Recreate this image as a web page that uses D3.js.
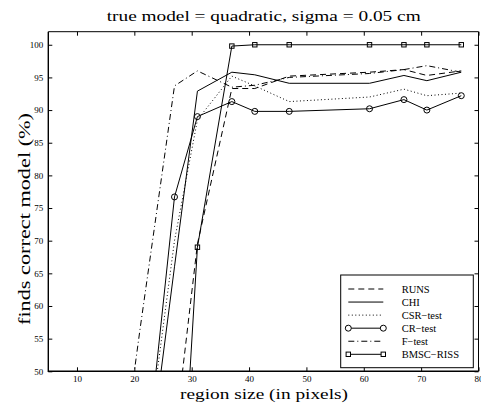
<!DOCTYPE html>
<html>
<head>
<meta charset="utf-8">
<script src="https://cdn.jsdelivr.net/npm/d3@7/dist/d3.min.js"></script>
<style>
  html, body { margin: 0; padding: 0; background: #fff; }
  svg { display: block; }
  text { font-family: "Liberation Serif", "Times New Roman", serif; fill: #000; }
</style>
</head>
<body>
<svg id="chart" width="481" height="411"></svg>
<script>
// Region sizes (pixels) at which each method was evaluated
const regionSizes = [15, 21, 27, 31, 37, 41, 47, 61, 67, 71, 77];

// Percentage of trials in which each method finds the correct model
const runs  = [5, 10, 39.5, 69.5, 93.3, 93.3, 95.2, 95.8, 96.2, 95.3, 96.0];
const chi   = [5, 25, 66.0, 92.9, 95.8, 95.4, 94.1, 94.1, 95.3, 94.5, 95.8];
const csr   = [5, 30, 70.0, 88.5, 95.2, 93.7, 91.3, 92.0, 93.2, 92.2, 92.6];
const cr    = [8, 27, 76.7, 89.0, 91.3, 89.8, 89.8, 90.2, 91.6, 90.0, 92.2];
const ftest = [17.5, 56.5, 93.7, 96.0, 93.5, 93.8, 95.0, 95.6, 96.2, 96.8, 95.8];
const bmsc  = [2, 5, 10.6, 69.0, 99.8, 100, 100, 100, 100, 100, 100];

const seriesNames = ["RUNS", "CHI", "CSR\u2212test", "CR\u2212test", "F\u2212test", "BMSC\u2212RISS"];
const seriesValues = [runs, chi, csr, cr, ftest, bmsc];

const xTicks = [10, 20, 30, 40, 50, 60, 70, 80];
const yTicks = [50, 55, 60, 65, 70, 75, 80, 85, 90, 95, 100];

// line styles per method
const styles = [
  { dash: "6,4",     marker: null },
  { dash: null,      marker: null },
  { dash: "1,2.5",   marker: null },
  { dash: null,      marker: "circle" },
  { dash: "6,3,1,3", marker: null },
  { dash: null,      marker: "square" }
];

const svg = d3.select("#chart");
const pL = 48.3, pR = 478.5, pT = 31.7, pB = 371.3;

const x = d3.scaleLinear().domain([5, 80]).range([pL, pR]);
const y = d3.scaleLinear().domain([50, 102]).range([pB, pT]);

svg.append("defs").append("clipPath").attr("id", "plotClip")
  .append("rect").attr("x", pL).attr("y", pT)
  .attr("width", pR - pL).attr("height", pB - pT);

// title (wide-set serif lettering)
svg.append("text").attr("x", 106.7).attr("y", 20.5)
  .style("font-size", "15.5px")
  .attr("textLength", 314).attr("lengthAdjust", "spacingAndGlyphs")
  .text("true model = quadratic, sigma = 0.05 cm");

// axis labels
svg.append("text").attr("x", 180).attr("y", 398.5)
  .style("font-size", "15.5px")
  .attr("textLength", 168).attr("lengthAdjust", "spacingAndGlyphs")
  .text("region size (in pixels)");
svg.append("text").attr("transform", "translate(29.5,325) rotate(-90)")
  .style("font-size", "17.5px")
  .attr("textLength", 212).attr("lengthAdjust", "spacingAndGlyphs")
  .text("finds correct model (%)");

// axes with inward ticks
const tickLen = 4;
const axBottom = d3.axisBottom(x).tickValues(xTicks).tickSizeInner(-tickLen).tickSizeOuter(0).tickPadding(4);
const axTop = d3.axisTop(x).tickValues(xTicks).tickSizeInner(-tickLen).tickSizeOuter(0).tickFormat("");
const axLeft = d3.axisLeft(y).tickValues(yTicks).tickSizeInner(-tickLen).tickSizeOuter(0).tickPadding(5);
const axRight = d3.axisRight(y).tickValues(yTicks).tickSizeInner(-tickLen).tickSizeOuter(0).tickFormat("");

function styleAxis(g) {
  g.select(".domain").remove();
  g.selectAll(".tick line").attr("stroke", "#000").attr("stroke-width", 1);
  g.selectAll(".tick text").style("font-family", '"Liberation Serif", serif').style("font-size", "9px").attr("fill", "#000");
}
svg.append("g").attr("transform", `translate(0,${pB})`).call(axBottom).call(styleAxis);
svg.append("g").attr("transform", `translate(0,${pT})`).call(axTop).call(styleAxis);
svg.append("g").attr("transform", `translate(${pL},0)`).call(axLeft).call(styleAxis);
svg.append("g").attr("transform", `translate(${pR},0)`).call(axRight).call(styleAxis);

// data lines
const plot = svg.append("g").attr("clip-path", "url(#plotClip)");
const line = d3.line().x((d, i) => x(regionSizes[i])).y(d => y(d));

seriesValues.forEach((vals, k) => {
  const st = styles[k];
  plot.append("path").datum(vals)
    .attr("d", line).attr("fill", "none").attr("stroke", "#000")
    .attr("stroke-width", 1)
    .attr("stroke-dasharray", st.dash);
  if (st.marker === "circle") {
    plot.selectAll(null).data(vals).join("circle")
      .attr("cx", (d, i) => x(regionSizes[i])).attr("cy", d => y(d)).attr("r", 3)
      .attr("fill", "none").attr("stroke", "#000").attr("stroke-width", 1);
  } else if (st.marker === "square") {
    plot.selectAll(null).data(vals).join("rect")
      .attr("x", (d, i) => x(regionSizes[i]) - 2.2).attr("y", d => y(d) - 2.2)
      .attr("width", 4.4).attr("height", 4.4)
      .attr("fill", "none").attr("stroke", "#000").attr("stroke-width", 1);
  }
});

// plot frame
svg.append("line").attr("x1", pL).attr("x2", pL).attr("y1", pT).attr("y2", pB + 0.6).attr("stroke", "#000").attr("stroke-width", 1.4);
svg.append("line").attr("x1", pL).attr("x2", pR).attr("y1", pB).attr("y2", pB).attr("stroke", "#000").attr("stroke-width", 1.4);
svg.append("line").attr("x1", pL).attr("x2", pR).attr("y1", pT).attr("y2", pT).attr("stroke", "#000").attr("stroke-width", 1);
svg.append("line").attr("x1", pR).attr("x2", pR).attr("y1", pT).attr("y2", pB).attr("stroke", "#000").attr("stroke-width", 1);

// legend
const lg = svg.append("g");
const lgX0 = 340.7, lgY0 = 275, lgX1 = 473.3, lgY1 = 367.7;
lg.append("rect").attr("x", lgX0).attr("y", lgY0).attr("width", lgX1 - lgX0).attr("height", lgY1 - lgY0)
  .attr("fill", "#fff").attr("stroke", "#000").attr("stroke-width", 1);
seriesNames.forEach((name, k) => {
  const yy = 289 + k * 13.06;
  const st = styles[k];
  const sx0 = 348.3, sx1 = 383.3;
  lg.append("line").attr("x1", sx0).attr("x2", sx1).attr("y1", yy).attr("y2", yy)
    .attr("stroke", "#000").attr("stroke-width", 1).attr("stroke-dasharray", st.dash);
  if (st.marker === "circle") {
    [sx0, sx1].forEach(cx => lg.append("circle").attr("cx", cx).attr("cy", yy).attr("r", 3)
      .attr("fill", "#fff").attr("stroke", "#000"));
  } else if (st.marker === "square") {
    [sx0, sx1].forEach(cx => lg.append("rect").attr("x", cx - 2.2).attr("y", yy - 2.2)
      .attr("width", 4.4).attr("height", 4.4).attr("fill", "#fff").attr("stroke", "#000"));
  }
  lg.append("text").attr("x", 401.7).attr("y", yy + 3.5).style("font-size", "10.5px").text(name);
});
</script>
</body>
</html>
